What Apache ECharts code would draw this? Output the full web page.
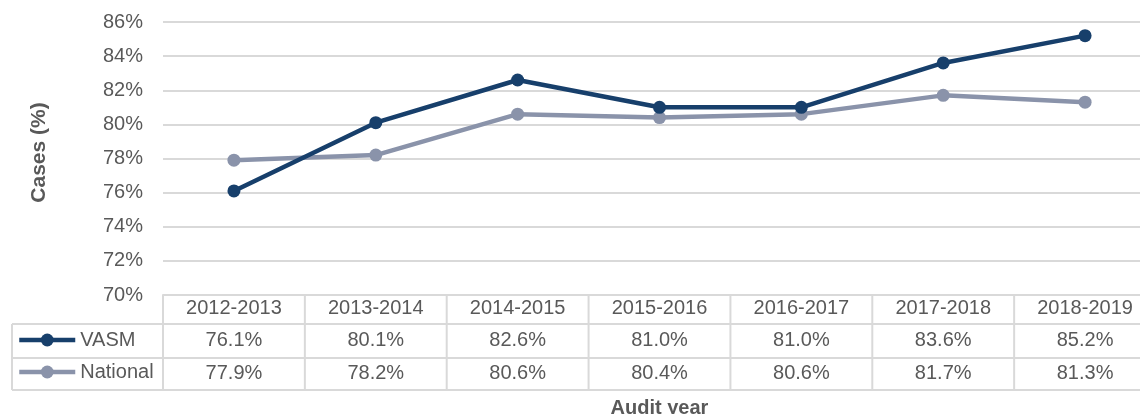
<!DOCTYPE html>
<html>
<head>
<meta charset="utf-8">
<script src="https://cdn.jsdelivr.net/npm/echarts@6/dist/echarts.min.js"></script>
<style>
html, body { margin: 0; padding: 0; background: #fff; }
#main { width: 1140px; height: 414px; }
</style>
</head>
<body>
<div id="main"></div>
<script>
// data
var years = ['2012-2013', '2013-2014', '2014-2015', '2015-2016', '2016-2017', '2017-2018', '2018-2019'];
var vasm = [76.1, 80.1, 82.6, 81.0, 81.0, 83.6, 85.2];
var national = [77.9, 78.2, 80.6, 80.4, 80.6, 81.7, 81.3];
var yMin = 70, yMax = 86, yStep = 2;

var textColor = '#595959';
var lineColor = '#D9D9D9';
var font = '"Liberation Sans", Arial, sans-serif';

var myChart = echarts.init(document.getElementById('main'));

var option = {
	animation: false,
	textStyle: { fontFamily: font },
	grid: { left: 163, right: -16, top: 22, bottom: 119, containLabel: false, outerBoundsMode: 'none' },
	legend: {
		orient: 'vertical',
		left: 17,
		top: 330,
		padding: 0,
		itemWidth: 56,
		itemHeight: 16,
		itemGap: 12,
		lineStyle: { width: 4.5 },
		textStyle: { color: textColor, fontSize: 20, fontFamily: font },
		data: ['VASM', 'National']
	},
	xAxis: {
		type: 'category',
		data: years,
		boundaryGap: true,
		axisLine: { show: true, lineStyle: { color: lineColor, width: 2 } },
		axisTick: { show: false },
		axisLabel: {
			interval: 0,
			margin: -3,
			color: textColor,
			fontSize: 20,
			lineHeight: 32.5,
			formatter: function(v, i) {
				return v + '\n' + vasm[i].toFixed(1) + '%\n' + national[i].toFixed(1) + '%';
			}
		},
		name: 'Audit year',
		nameLocation: 'middle',
		nameGap: 103,
		nameTextStyle: { color: textColor, fontSize: 20, fontWeight: 'bold', fontFamily: font }
	},
	yAxis: {
		type: 'value',
		min: yMin,
		max: yMax,
		interval: yStep,
		axisLine: { show: false },
		axisTick: { show: false },
		axisLabel: { color: textColor, fontSize: 20, margin: 20, formatter: '{value}%' },
		splitLine: { lineStyle: { color: lineColor, width: 2 } },
		name: 'Cases (%)',
		nameLocation: 'middle',
		nameGap: 113,
		nameTextStyle: { color: textColor, fontSize: 21, fontWeight: 'bold', fontFamily: font, padding: [0, 0, 0, 12] }
	},
	series: [{
		name: 'VASM',
		type: 'line',
		data: vasm,
		symbol: 'circle',
		symbolSize: 13,
		lineStyle: { width: 4.5, color: '#173F6B' },
		itemStyle: { color: '#173F6B' },
		z: 3
	}, {
		name: 'National',
		type: 'line',
		data: national,
		symbol: 'circle',
		symbolSize: 13,
		lineStyle: { width: 4.5, color: '#8A93AA' },
		itemStyle: { color: '#8A93AA' },
		z: 2
	}]
};

myChart.setOption(option);

// data table grid lines, placed from the category axis
var c0 = myChart.convertToPixel({ xAxisIndex: 0 }, 0);
var c1 = myChart.convertToPixel({ xAxisIndex: 0 }, 1);
var band = c1 - c0;
var x0 = c0 - band / 2;
var xEnd = x0 + band * years.length;
var tableTop = myChart.convertToPixel({ yAxisIndex: 0 }, yMin);
var rowLines = [tableTop + 29, tableTop + 63, tableTop + 95];
var tableLeft = 12;

var g = [];
for (var k = 0; k <= years.length; k++) {
	var x = x0 + k * band;
	g.push({ type: 'line', shape: { x1: x, y1: tableTop, x2: x, y2: rowLines[2] }, style: { stroke: lineColor, lineWidth: 2 }, silent: true });
}
g.push({ type: 'line', shape: { x1: tableLeft, y1: rowLines[0], x2: tableLeft, y2: rowLines[2] }, style: { stroke: lineColor, lineWidth: 2 }, silent: true });
rowLines.forEach(function(y) {
	g.push({ type: 'line', shape: { x1: tableLeft, y1: y, x2: xEnd, y2: y }, style: { stroke: lineColor, lineWidth: 2 }, silent: true });
});
myChart.setOption({ graphic: g });
</script>
</body>
</html>
